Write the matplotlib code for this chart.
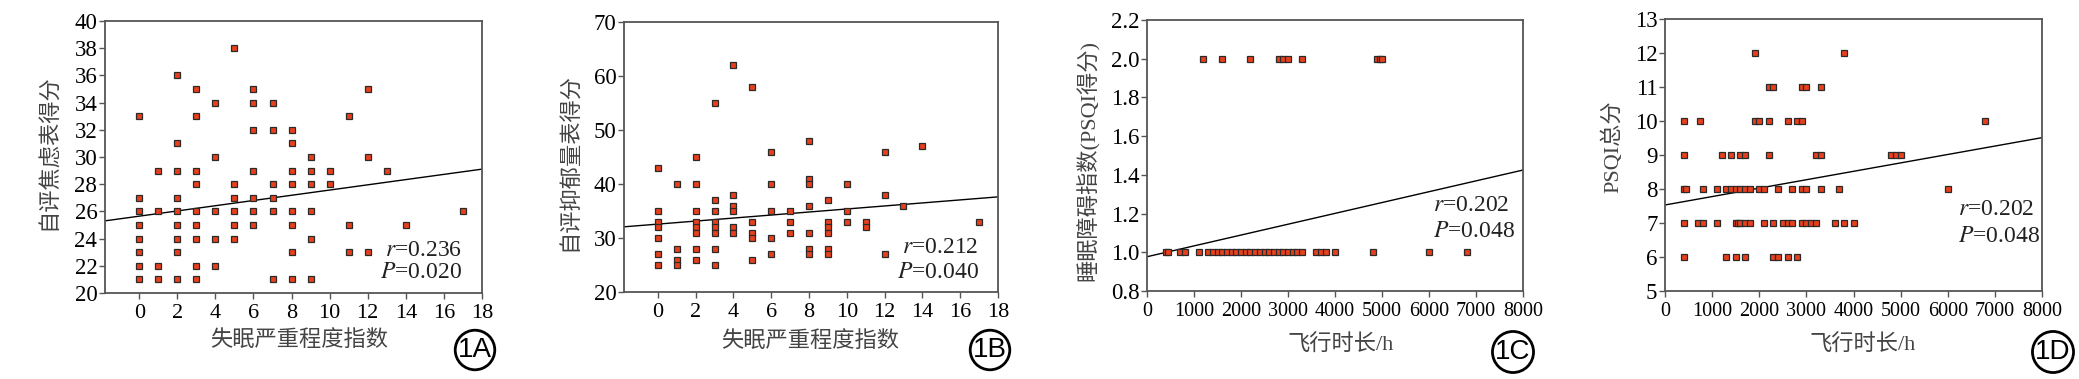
import numpy as np
import matplotlib
matplotlib.use('Agg')
import matplotlib.pyplot as plt

plt.rcParams['font.family'] = ['Liberation Serif', 'Noto Sans CJK SC']
plt.rcParams['mathtext.fontset'] = 'stix'

# ---- panel A: insomnia index vs anxiety score ----
a_groups = {
    0: [33, 27, 26, 25, 24, 23, 22, 21],
    1: [29, 26, 22, 21],
    2: [36, 31, 29, 27, 26, 25, 24, 23, 21],
    3: [35, 33, 29, 28, 26, 25, 24, 22, 21],
    4: [34, 30, 26, 24, 22],
    5: [38, 28, 27, 26, 25, 24],
    6: [35, 34, 32, 29, 27, 26, 25],
    7: [34, 32, 28, 27, 26, 21],
    8: [32, 31, 29, 28, 26, 25, 23, 21],
    9: [30, 29, 28, 26, 24, 21],
    10: [29, 28],
    11: [33, 25, 23],
    12: [35, 30, 23],
    13: [29],
    14: [25],
    17: [26],
}
a_x = [k for k, v in a_groups.items() for _ in v]
a_y = [y for v in a_groups.values() for y in v]
a_fit = (25.65, 0.192)   # intercept, slope

# ---- panel B: insomnia index vs depression score ----
b_groups = {
    0: [43, 35, 33, 32, 30, 27, 25],
    1: [40, 28, 26, 25],
    2: [45, 40, 35, 33, 32, 31, 28, 26],
    3: [55, 37, 35, 33, 32, 31, 28, 25],
    4: [62, 38, 36, 35, 32, 31],
    5: [58, 33, 31, 30, 26],
    6: [46, 40, 35, 30, 27],
    7: [35, 33, 31],
    8: [48, 41, 40, 36, 31, 28, 27],
    9: [37, 33, 32, 31, 28, 27],
    10: [40, 35, 33],
    11: [33, 32],
    12: [46, 38, 27],
    13: [36],
    14: [47],
    17: [33],
}
b_x = [k for k, v in b_groups.items() for _ in v]
b_y = [y for v in b_groups.values() for y in v]
b_fit = (32.57, 0.28)

# ---- panel C: flight hours vs sleep disturbance ----
c_hours_2 = [1200, 1600, 2200, 2800, 2900, 3000, 3300, 4900, 4950, 5000]
c_hours_1 = [400, 450, 700, 800, 1100,
             1300, 1400, 1500, 1600, 1700, 1800, 1900, 2000, 2100, 2200, 2300,
             2400, 2500, 2600, 2700, 2800, 2900, 3000, 3100, 3200, 3300,
             3600, 3700, 3800, 4000, 4800, 6000, 6800]
c_x = c_hours_2 + c_hours_1
c_y = [2.0] * len(c_hours_2) + [1.0] * len(c_hours_1)
c_fit = (0.977, 0.448 / 8000)

# ---- panel D: flight hours vs PSQI total ----
d_groups = {
    12: [1900, 3800],
    11: [2200, 2300, 2900, 3000, 3300],
    10: [400, 750, 1900, 2000, 2200, 2600, 2800, 2900, 6800],
    9: [400, 1200, 1400, 1600, 1700, 2200, 3200, 3300, 4800, 4900, 5000],
    8: [400, 450, 800, 1100, 1300, 1400, 1500, 1600, 1700, 1800, 2000, 2100,
        2400, 2700, 2900, 3000, 3300, 3700, 6000],
    7: [400, 700, 800, 1100, 1500, 1550, 1600, 1700, 1800, 2100, 2300, 2500,
        2600, 2700, 2900, 3000, 3100, 3200, 3600, 3800, 4000],
    6: [400, 1300, 1500, 1700, 2300, 2400, 2600, 2800],
}
d_x = [h for v in d_groups.values() for h in v]
d_y = [k for k, v in d_groups.items() for _ in v]
d_fit = (7.53, 1.98 / 8000)

cn_font = ['Liberation Serif', 'Noto Sans CJK SC']
lbl_color = '#444444'
spine_color = '#555555'

fig = plt.figure(figsize=(20.79, 3.79), dpi=100)

panels = [
    dict(rect=[0.0505, 0.2269, 0.1813, 0.7177], x=a_x, y=a_y, fit=a_fit,
         xlim=(-1.8, 18), xticks=range(0, 19, 2), ylim=(20, 40), yticks=range(20, 41, 2), xfs=16,
         ylabel='自评焦虑表得分', ylc=(-0.146, 0.518), xlabel='失眠严重程度指数', xlc=(0.515, -0.173),
         r='0.236', p='0.020', txt=(0.947, 0.158, 0.077, 'right'), tag='1A', tagpos=(475, 350)),
    dict(rect=[0.3001, 0.2296, 0.1799, 0.7124], x=b_x, y=b_y, fit=b_fit,
         xlim=(-1.8, 18), xticks=range(0, 19, 2), ylim=(20, 70), yticks=range(20, 71, 10), xfs=16,
         ylabel='自评抑郁量表得分', ylc=(-0.144, 0.48), xlabel='失眠严重程度指数', xlc=(0.497, -0.185),
         r='0.212', p='0.040', txt=(0.949, 0.163, 0.074, 'right'), tag='1B', tagpos=(990, 350)),
    dict(rect=[0.5517, 0.2322, 0.1809, 0.7150], x=c_x, y=c_y, fit=c_fit,
         xlim=(0, 8000), xticks=range(0, 8001, 1000), ylim=(0.8, 2.2), xfs=14.5,
         yticks=np.arange(0.8, 2.21, 0.2), yfmt='{:.1f}',
         ylabel='睡眠障碍指数(PSQI得分)', ylc=(-0.157, 0.48), xlabel='飞行时长/h', xlc=(0.516, -0.2),
         r='0.202', p='0.048', txt=(0.761, 0.314, 0.218, 'left'), tag='1C', tagpos=(1513, 352)),
    dict(rect=[0.8009, 0.2322, 0.1813, 0.7177], x=d_x, y=d_y, fit=d_fit,
         xlim=(0, 8000), xticks=range(0, 8001, 1000), ylim=(5, 13), yticks=range(5, 14), xfs=14.5,
         ylabel='PSQI总分', ylc=(-0.138, 0.53), xlabel='飞行时长/h', xlc=(0.523, -0.199),
         r='0.202', p='0.048', txt=(0.777, 0.298, 0.199, 'left'), tag='1D', tagpos=(2053, 352)),
]

for pn in panels:
    ax = fig.add_axes(pn['rect'])
    ax.plot(pn['x'], pn['y'], 's', ms=5, mfc='#e8401c', mec='#2a2a2a', mew=0.9,
            linestyle='none', zorder=3)
    x0, x1 = pn['xlim']
    b0, k = pn['fit']
    ax.plot([x0, x1], [b0 + k * x0, b0 + k * x1], color='black', lw=1.0, zorder=2)
    ax.set_xlim(x0, x1)
    ax.set_ylim(*pn['ylim'])
    ax.set_xticks(list(pn['xticks']))
    ax.set_yticks(list(pn['yticks']))
    if 'yfmt' in pn:
        ax.set_yticklabels([pn['yfmt'].format(v) for v in pn['yticks']])
    ax.tick_params(axis='x', labelsize=pn['xfs'], length=4, width=1, color=spine_color, pad=4)
    ax.tick_params(axis='y', labelsize=16.5, length=4, width=1, color=spine_color, pad=1.5)
    for s in ax.spines.values():
        s.set_color(spine_color)
        s.set_linewidth(1.3)
    ax.set_ylabel(pn['ylabel'], family=cn_font, fontsize=16, color=lbl_color,
                  va='center', fontweight='light')
    ax.yaxis.set_label_coords(*pn['ylc'])
    ax.set_xlabel(pn['xlabel'], family=cn_font, fontsize=16, color=lbl_color,
                  va='center', fontweight='light')
    ax.xaxis.set_label_coords(*pn['xlc'])
    tx, ry, py, ha = pn['txt']
    ax.text(tx, ry, '$r$=' + pn['r'], transform=ax.transAxes, ha=ha, va='center',
            fontsize=17, color='#222222')
    ax.text(tx, py, '$P$=' + pn['p'], transform=ax.transAxes, ha=ha, va='center',
            fontsize=17, color='#222222')
    cx, cy = pn['tagpos']
    fig.text(cx / 2079, 1 - cy / 379, pn['tag'], ha='center', va='center', fontsize=20,
             family=['Liberation Sans Narrow', 'Liberation Sans'],
             bbox=dict(boxstyle='circle,pad=0.1', fc='white', ec='black', lw=2))

fig.savefig('out.png', dpi=100)
